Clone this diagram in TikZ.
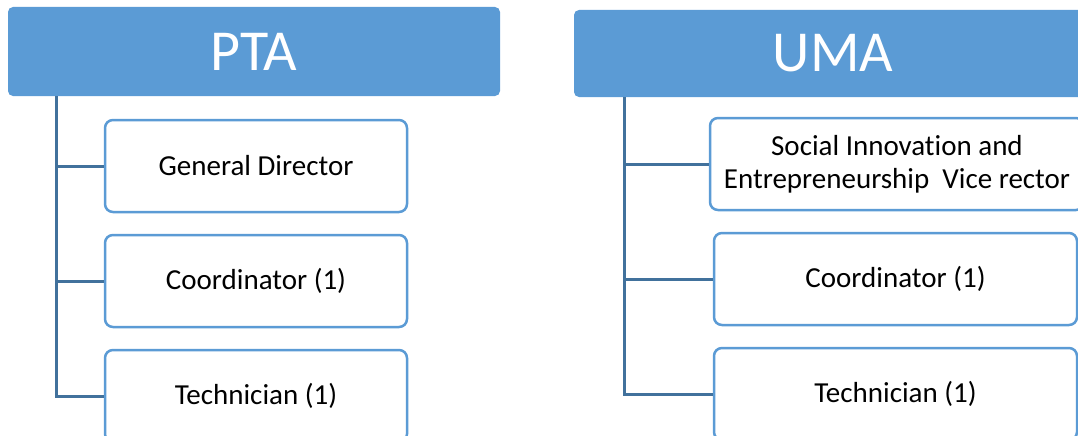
\documentclass[tikz,border=0pt]{standalone}
\usepackage{fontspec}
\setmainfont{Carlito}[Ligatures=NoCommon]
\definecolor{headblue}{HTML}{5B9BD5}
\definecolor{boxline}{HTML}{5B9BD5}
\definecolor{trunkblue}{HTML}{41719C}
\begin{document}
\begin{tikzpicture}[x=1pt,y=-1pt,
  header/.style={fill=headblue,draw=none,rounded corners=5pt,text=white,
    font=\fontsize{58}{60}\selectfont,inner sep=0pt},
  role/.style={draw=boxline,line width=2.5pt,fill=white,rounded corners=8pt,
    font=\fontsize{29}{33}\selectfont,align=center,inner sep=0pt},
  link/.style={draw=trunkblue,line width=3pt}]
\useasboundingbox (0,0) rectangle (1078,436);

% PTA group
\node[header,minimum width=492pt,minimum height=89pt] (pta) at (254,51.5) {PTA};
\node[role,minimum width=302pt,minimum height=92pt] (pta1) at (256,166) {General Director};
\node[role,minimum width=302pt,minimum height=92pt] (pta2) at (256,281) {Coordinator (1)};
\node[role,minimum width=302pt,minimum height=92pt] (pta3) at (256,396) {Technician (1)};
\coordinate (ptatrunk) at (56,96);
\draw[link] (ptatrunk) |- (pta1.west);
\draw[link] (ptatrunk) |- (pta2.west);
\draw[link] (ptatrunk) |- (pta3.west);

% UMA group
\node[header,minimum width=518pt,minimum height=87pt] (uma) at (833,53.5) {UMA};
\node[role,minimum width=374pt,minimum height=92pt] (uma1) at (897,164) {Social Innovation and\\Entrepreneurship\ \ Vice rector};
\node[role,minimum width=363pt,minimum height=92pt] (uma2) at (895.5,279) {Coordinator (1)};
\node[role,minimum width=363pt,minimum height=92pt] (uma3) at (895.5,394) {Technician (1)};
\coordinate (umatrunk) at (624,97);
\draw[link] (umatrunk) |- (uma1.west);
\draw[link] (umatrunk) |- (uma2.west);
\draw[link] (umatrunk) |- (uma3.west);
\end{tikzpicture}
\end{document}
